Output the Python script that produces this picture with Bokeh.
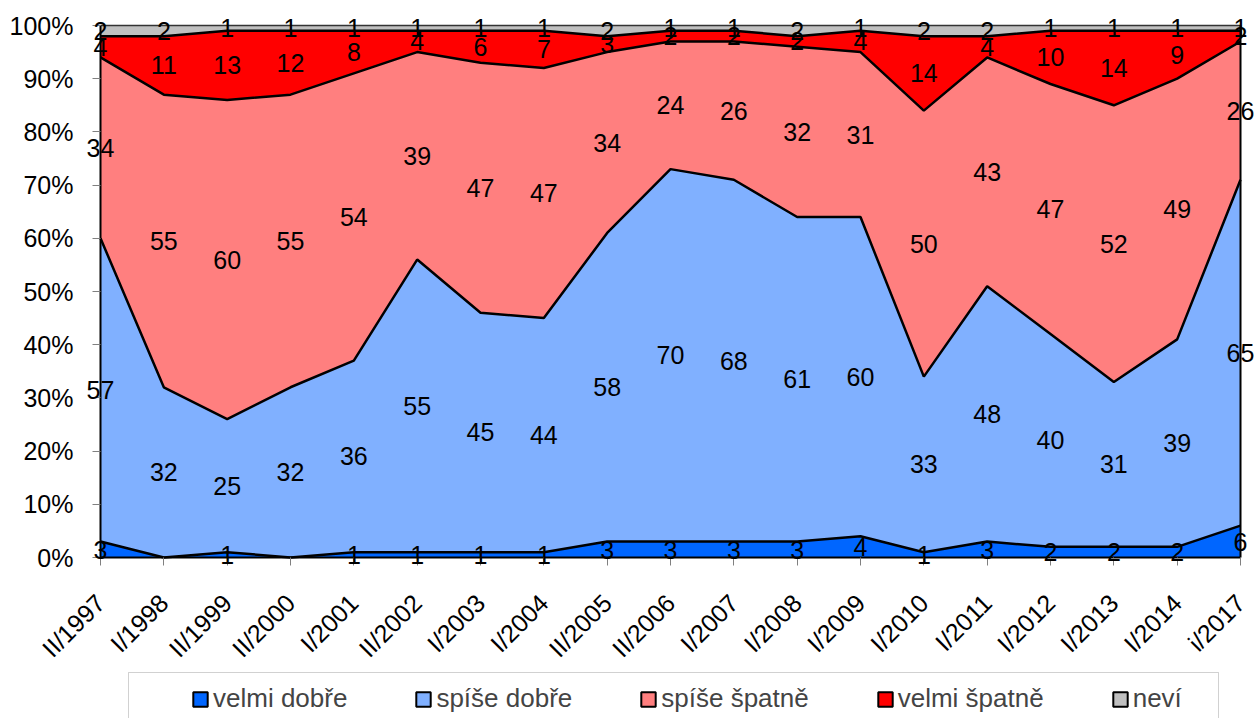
import numpy as np
from math import pi
from bokeh.plotting import figure
from bokeh.models import (Label, Legend, LegendItem, ColumnDataSource,
                          FixedTicker, Range1d, BoxAnnotation)
from bokeh.embed import file_html
from bokeh.resources import INLINE

categories = ["II/1997", "I/1998", "II/1999", "II/2000", "I/2001", "II/2002",
              "I/2003", "I/2004", "II/2005", "II/2006", "I/2007", "I/2008",
              "I/2009", "I/2010", "I/2011", "I/2012", "I/2013", "I/2014", "i/2017"]
velmi_dobre = [3, 0, 1, 0, 1, 1, 1, 1, 3, 3, 3, 3, 4, 1, 3, 2, 2, 2, 6]
spise_dobre = [57, 32, 25, 32, 36, 55, 45, 44, 58, 70, 68, 61, 60, 33, 48, 40, 31, 39, 65]
spise_spatne = [34, 55, 60, 55, 54, 39, 47, 47, 34, 24, 26, 32, 31, 50, 43, 47, 52, 49, 26]
velmi_spatne = [4, 11, 13, 12, 8, 4, 6, 7, 3, 2, 2, 2, 4, 14, 4, 10, 14, 9, 2]
nevi = [2, 2, 1, 1, 1, 1, 1, 1, 2, 1, 1, 2, 1, 2, 2, 1, 1, 1, 1]

series_names = ["velmi dobře", "spíše dobře", "spíše špatně", "velmi špatně", "neví"]
series_values = [velmi_dobre, spise_dobre, spise_spatne, velmi_spatne, nevi]
colors = ["#0066FF", "#80B0FF", "#FF7F7F", "#FF0000", "#C0C0C0"]
y_ticks = [0, 10, 20, 30, 40, 50, 60, 70, 80, 90, 100]

FONT = "Liberation Sans"
W, H = 1257, 718
# plot-area placement in canvas pixels (axes sit at data 0; frame covers whole canvas)
PL, PR, PT, PB = 100, 1240, 25, 557
n = len(categories)
xs = (PR - PL) / (n - 1)
ys = (PB - PT) / 100.0
x_range = Range1d(-PL / xs, (n - 1) + (W - PR) / xs)
y_range = Range1d(-(H - PB) / ys, 100 + PT / ys)

x = list(range(n))
keys = [f"s{i}" for i in range(len(series_values))]
data = {"x": x}
for k, v in zip(keys, series_values):
    data[k] = v
src = ColumnDataSource(data)

p = figure(width=W, height=H, x_range=x_range, y_range=y_range, title=None,
           output_backend="svg", toolbar_location=None, min_border=0,
           min_border_left=0, min_border_right=0, min_border_top=0,
           min_border_bottom=0, background_fill_color="white",
           border_fill_color="white")
p.outline_line_color = None
p.grid.grid_line_color = None

p.varea_stack(stackers=keys, x="x", fill_color=colors, source=src)

cum = np.cumsum(np.array(series_values, dtype=float), axis=0)
for i in range(len(series_values)):
    p.line(x, cum[i], line_color="black" if i < 4 else "#333333",
           line_width=2.5 if i < 4 else 1.5)
# right edge of the stacked areas
p.segment(x0=[x[-1]], y0=[0], x1=[x[-1]], y1=[cum[-1][-1]],
          line_color="black", line_width=2)

# data labels
prev = np.zeros(n)
for i, vals in enumerate(series_values):
    for j, v in enumerate(vals):
        if v > 0:
            p.add_layout(Label(x=j, y=prev[j] + v / 2.0, text=str(v),
                               text_align="center", text_baseline="middle",
                               text_font=FONT, text_font_size="25px",
                               text_color="black"))
    prev = cum[i]

# axes fixed at data zero
p.xaxis.fixed_location = 0
p.yaxis.fixed_location = 0
p.xaxis.bounds = (0, n - 1)
p.yaxis.bounds = (0, 100)
p.xaxis.ticker = FixedTicker(ticks=x)
p.xaxis.major_label_overrides = {i: c for i, c in enumerate(categories)}
p.xaxis.major_label_orientation = pi / 4
p.yaxis.ticker = FixedTicker(ticks=y_ticks)
p.yaxis.major_label_overrides = {t: f"{t}%" for t in y_ticks}
for ax in (p.xaxis, p.yaxis):
    ax.axis_line_color = "black"
    ax.axis_line_width = 2
    ax.major_tick_line_color = "#808080"
    ax.major_tick_line_width = 1
    ax.major_tick_out = 8
    ax.major_tick_in = 0
    ax.minor_tick_line_color = None
    ax.major_label_text_font = FONT
    ax.major_label_text_color = "black"
p.yaxis.major_label_text_font_size = "25px"
p.xaxis.major_label_text_font_size = "25px"
p.yaxis.major_label_standoff = 19
p.xaxis.major_label_standoff = 33

# legend box (open at the bottom, as in the reference)
p.add_layout(BoxAnnotation(left=128, right=1218, top=H - 672, bottom=-20,
                           left_units="screen", right_units="screen",
                           top_units="screen", bottom_units="screen",
                           fill_alpha=0, line_color="#666666", line_width=1))

items = []
for name, c in zip(series_names, colors):
    nan = np.array([np.nan])
    r = p.quad(left=nan, right=nan, top=nan, bottom=nan, fill_color=c,
               line_color="black", line_width=2)
    items.append(LegendItem(label=name, renderers=[r]))
legend = Legend(items=items, orientation="horizontal", location=(191, 4),
                padding=0, spacing=67, glyph_width=18, glyph_height=18,
                label_standoff=4, label_text_font=FONT, label_text_font_size="26px",
                border_line_color=None, background_fill_alpha=0)
p.add_layout(legend)

open("out.html", "w").write(file_html(p, INLINE))
